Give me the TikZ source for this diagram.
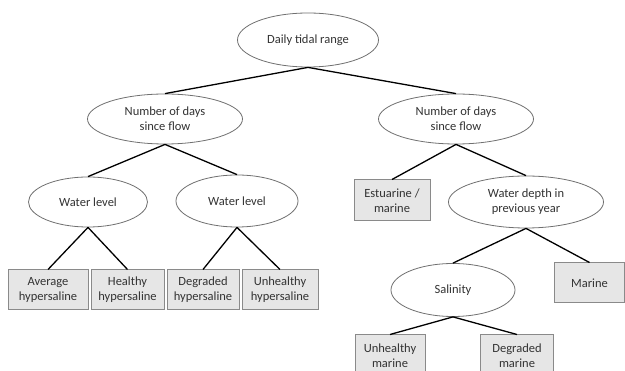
\documentclass[tikz,border=0pt]{standalone}
\usepackage{fontspec}
\setmainfont{Carlito}
\usetikzlibrary{shapes.geometric}
\definecolor{boxfill}{HTML}{E6E6E6}
\definecolor{boxline}{HTML}{8A8A8A}
\definecolor{ovalline}{HTML}{707070}
\definecolor{txt}{HTML}{333333}
\tikzset{
  lbl/.style={font=\fontsize{12.5}{15}\selectfont, text=txt, align=center, inner sep=0pt},
  oval/.style={lbl, ellipse, draw=ovalline, line width=0.8pt, fill=white},
  leaf/.style={lbl, rectangle, draw=boxline, line width=1pt, fill=boxfill},
  branch/.style={line width=1.3pt, black}
}
\begin{document}
\begin{tikzpicture}[x=1pt,y=-1pt]
\useasboundingbox (0,0) rectangle (625,371);
\fill[white] (0,0) rectangle (625,371);
\begin{scope}
\clip (0,0) rectangle (625,371);
% decision nodes
\node[oval, minimum width=141pt, minimum height=54pt] (root) at (308,40) {Daily tidal range};
\node[oval, minimum width=155pt, minimum height=50pt] (daysL) at (165,119) {Number of days\\since flow};
\node[oval, minimum width=155pt, minimum height=50pt] (daysR) at (456,119) {Number of days\\since flow};
\node[oval, minimum width=119pt, minimum height=50pt] (levelL) at (88,202) {Water level};
\node[oval, minimum width=122pt, minimum height=52pt] (levelR) at (237,201) {Water level};
\node[oval, minimum width=155pt, minimum height=52pt] (depth) at (526,202) {Water depth in\\previous year};
\node[oval, minimum width=124pt, minimum height=53pt] (salin) at (453,290) {Salinity};
% outcome boxes
\node[leaf, minimum width=80pt, minimum height=40pt] (avg) at (48,290) {Average\\hypersaline};
\node[leaf, minimum width=73pt, minimum height=40pt] (hea) at (127.5,290) {Healthy\\hypersaline};
\node[leaf, minimum width=72pt, minimum height=40pt] (deg) at (203,290) {Degraded\\hypersaline};
\node[leaf, minimum width=76pt, minimum height=40pt] (unh) at (280,290) {Unhealthy\\hypersaline};
\node[leaf, minimum width=76pt, minimum height=41pt] (est) at (392,200.5) {Estuarine /\\marine};
\node[leaf, minimum width=70pt, minimum height=40pt] (mar) at (589.5,283) {Marine};
\node[leaf, minimum width=70pt, minimum height=41pt] (unm) at (390,355.5) {Unhealthy\\marine};
\node[leaf, minimum width=73pt, minimum height=41pt] (dgm) at (517,355.5) {Degraded\\marine};
% branches
\draw[branch] (root.south) -- (daysL.north);
\draw[branch] (root.south) -- (daysR.north);
\draw[branch] (daysL.south) -- (levelL.north);
\draw[branch] (daysL.south) -- (levelR.north);
\draw[branch] (levelL.south) -- (avg.north);
\draw[branch] (levelL.south) -- (hea.north);
\draw[branch] (levelR.south) -- (deg.north);
\draw[branch] (levelR.south) -- (unh.north);
\draw[branch] (daysR.south) -- (est.north);
\draw[branch] (daysR.south) -- (depth.north);
\draw[branch] (depth.south) -- (salin.north);
\draw[branch] (depth.south) -- (mar.north);
\draw[branch] (salin.south) -- (unm.north);
\draw[branch] (salin.south) -- (dgm.north);
\end{scope}
\end{tikzpicture}
\end{document}
